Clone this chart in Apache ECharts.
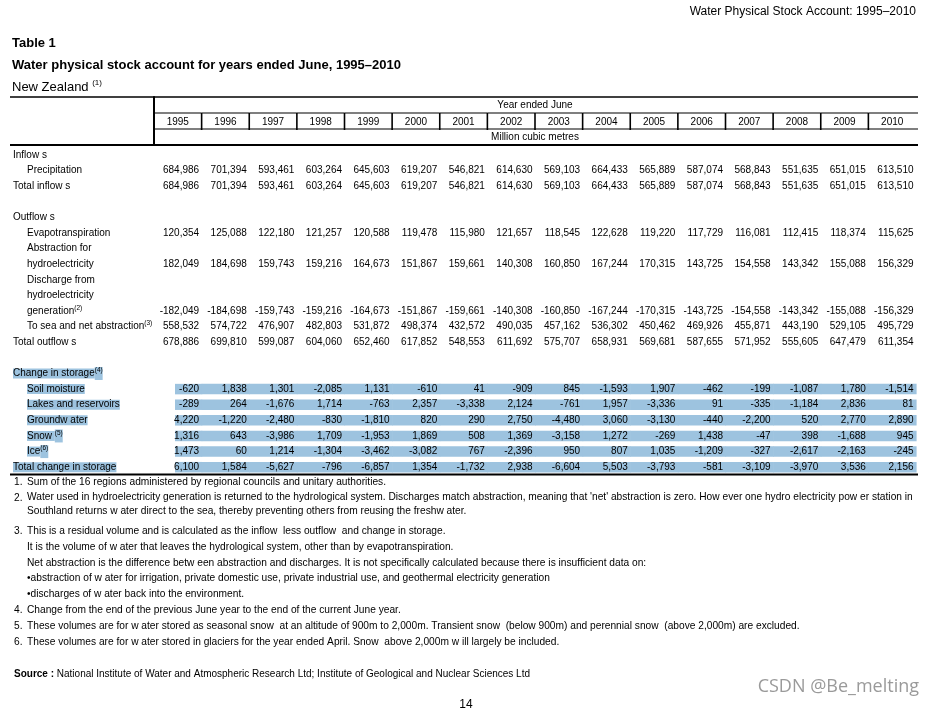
<!DOCTYPE html>
<html>
<head>
<meta charset="utf-8">
<script src="https://cdn.jsdelivr.net/npm/echarts@6/dist/echarts.min.js"></script>
<style>
  html, body { margin: 0; padding: 0; background: #fff; }
  #main { width: 935px; height: 715px; }
</style>
</head>
<body>
<div id="main"></div>
<script>
// 表格数据 (Million cubic metres)
const years = ['1995', '1996', '1997', '1998', '1999', '2000', '2001', '2002',
               '2003', '2004', '2005', '2006', '2007', '2008', '2009', '2010'];

const precipitation = [684986, 701394, 593461, 603264, 645603, 619207, 546821, 614630, 569103, 664433, 565889, 587074, 568843, 551635, 651015, 613510];
const totalInflows = [684986, 701394, 593461, 603264, 645603, 619207, 546821, 614630, 569103, 664433, 565889, 587074, 568843, 551635, 651015, 613510];
const evapotranspiration = [120354, 125088, 122180, 121257, 120588, 119478, 115980, 121657, 118545, 122628, 119220, 117729, 116081, 112415, 118374, 115625];
const abstractionHydro = [182049, 184698, 159743, 159216, 164673, 151867, 159661, 140308, 160850, 167244, 170315, 143725, 154558, 143342, 155088, 156329];
const dischargeHydro = [-182049, -184698, -159743, -159216, -164673, -151867, -159661, -140308, -160850, -167244, -170315, -143725, -154558, -143342, -155088, -156329];
const seaAndNetAbstraction = [558532, 574722, 476907, 482803, 531872, 498374, 432572, 490035, 457162, 536302, 450462, 469926, 455871, 443190, 529105, 495729];
const totalOutflows = [678886, 699810, 599087, 604060, 652460, 617852, 548553, 611692, 575707, 658931, 569681, 587655, 571952, 555605, 647479, 611354];
const soilMoisture = [-620, 1838, 1301, -2085, 1131, -610, 41, -909, 845, -1593, 1907, -462, -199, -1087, 1780, -1514];
const lakesReservoirs = [-289, 264, -1676, 1714, -763, 2357, -3338, 2124, -761, 1957, -3336, 91, -335, -1184, 2836, 81];
const groundwater = [4220, -1220, -2480, -830, -1810, 820, 290, 2750, -4480, 3060, -3130, -440, -2200, 520, 2770, 2890];
const snow = [1316, 643, -3986, 1709, -1953, 1869, 508, 1369, -3158, 1272, -269, 1438, -47, 398, -1688, 945];
const ice = [1473, 60, 1214, -1304, -3462, -3082, 767, -2396, 950, 807, 1035, -1209, -327, -2617, -2163, -245];
const totalChangeInStorage = [6100, 1584, -5627, -796, -6857, 1354, -1732, 2938, -6604, 5503, -3793, -581, -3109, -3970, 3536, 2156];

// 行结构 (每行一个槽位)
const tableRows = [
    { label: 'Inflow s' },
    { label: 'Precipitation', indent: true, values: precipitation },
    { label: 'Total inflow s', values: totalInflows },
    { label: '' },
    { label: 'Outflow s' },
    { label: 'Evapotranspiration', indent: true, values: evapotranspiration },
    { label: 'Abstraction for', indent: true },
    { label: 'hydroelectricity', indent: true, values: abstractionHydro },
    { label: 'Discharge from', indent: true },
    { label: 'hydroelectricity', indent: true },
    { label: 'generation', note: '(2)', indent: true, values: dischargeHydro },
    { label: 'To sea and net abstraction', note: '(3)', indent: true, values: seaAndNetAbstraction },
    { label: 'Total outflow s', values: totalOutflows },
    { label: '' },
    { label: 'Change in storage', note: '(4)', marked: true },
    { label: 'Soil moisture', indent: true, marked: true, values: soilMoisture },
    { label: 'Lakes and reservoirs', indent: true, marked: true, values: lakesReservoirs },
    { label: 'Groundw ater', indent: true, marked: true, values: groundwater },
    { label: 'Snow ', note: '(5)', indent: true, marked: true, values: snow },
    { label: 'Ice', note: '(6)', indent: true, marked: true, values: ice },
    { label: 'Total change in storage', marked: true, values: totalChangeInStorage }
];

const footnotes = [
    { num: '1.', lines: ['Sum of the 16 regions administered by regional councils and unitary authorities.'] },
    { num: '2.', lines: ["Water used in hydroelectricity generation is returned to the hydrological system. Discharges match abstraction, meaning that 'net' abstraction is zero. How ever one hydro electricity pow er station in",
                         'Southland returns w ater direct to the sea, thereby preventing others from reusing the freshw ater.'] },
    { num: '3.', lines: ['This is a residual volume and is calculated as the inflow  less outflow  and change in storage.',
                         'It is the volume of w ater that leaves the hydrological system, other than by evapotranspiration.',
                         'Net abstraction is the difference betw een abstraction and discharges. It is not specifically calculated because there is insufficient data on:',
                         '\u2022abstraction of w ater for irrigation, private domestic use, private industrial use, and geothermal electricity generation',
                         '\u2022discharges of w ater back into the environment.'] },
    { num: '4.', lines: ['Change from the end of the previous June year to the end of the current June year.'] },
    { num: '5.', lines: ['These volumes are for w ater stored as seasonal snow  at an altitude of 900m to 2,000m. Transient snow  (below 900m) and perennial snow  (above 2,000m) are excluded.'] },
    { num: '6.', lines: ['These volumes are for w ater stored in glaciers for the year ended April. Snow  above 2,000m w ill largely be included.'] }
];
const footnoteLineY = [[482], [497, 511], [531, 547, 563, 578, 594], [610], [626], [642]];

const FAMILY = 'Liberation Sans';
const NOTE_FONT = '10.2px ' + FAMILY;
const MARK = '#9dc3df';
const GRID_LEFT = 154;
const GRID_W = 762;

const chart = echarts.init(document.getElementById('main'));

const fmt = v => Number(v).toLocaleString('en-US');

function txt(x, y, text, font, align, extra) {
    return Object.assign({
        type: 'text', x: x, y: y, silent: true,
        style: {
            text: text, font: font || ('10px ' + FAMILY), fill: '#000',
            align: align || 'left', textAlign: align || 'left',
            verticalAlign: 'middle', textVerticalAlign: 'middle'
        }
    }, extra || {});
}
function hline(x1, x2, y, w) {
    return { type: 'line', silent: true, shape: { x1: x1, y1: y, x2: x2, y2: y }, style: { stroke: '#000', lineWidth: w || 1 } };
}

// 数值 / 标记数据
const cellData = [];
const markData = [];
tableRows.forEach((row, slot) => {
    if (!row.values) return;
    row.values.forEach((v, c) => {
        cellData.push([c, slot, v]);
        if (row.marked) markData.push([c, slot]);
    });
});

const sourceText = txt(14, 674, '{b|Source :} {n|National Institute of Water and Atmospheric Research Ltd; Institute of Geological and Nuclear Sciences Ltd}', null, 'left');
sourceText.style.rich = {
    b: { fontSize: 10, fontWeight: 'bold', fontFamily: FAMILY, fill: '#000' },
    n: { fontSize: 10, fontFamily: FAMILY, fill: '#000' }
};
const watermark = txt(919, 687, 'CSDN @Be_melting', '18px "Open Sans"', 'right');
watermark.style.fill = '#9a9a9a';

const graphics = [
    txt(916, 12, 'Water Physical Stock Account: 1995\u20132010', '12px ' + FAMILY, 'right'),
    txt(12, 43, 'Table 1', 'bold 13px ' + FAMILY),
    txt(12, 65, 'Water physical stock account for years ended June, 1995\u20132010', 'bold 13px ' + FAMILY),
    {
        type: 'text', x: 12, y: 87, silent: true,
        style: {
            text: '{a|New Zealand }{s|(1)}', verticalAlign: 'middle', textVerticalAlign: 'middle',
            rich: {
                a: { fontSize: 13, fontFamily: FAMILY, fill: '#000', lineHeight: 14 },
                s: { fontSize: 8, fontFamily: FAMILY, fill: '#000', lineHeight: 6, padding: [0, 0, 8, 0] }
            }
        }
    },
    hline(10, 918, 97, 1.5),
    hline(10, 918, 145, 2),
    hline(10, 918, 474.5, 2),
    txt(GRID_LEFT + GRID_W / 2, 105.5, 'Year ended June', null, 'center'),
    txt(GRID_LEFT + GRID_W / 2, 137.5, 'Million cubic metres', null, 'center'),
    sourceText,
    txt(466, 705, '14', '12px ' + FAMILY, 'center'),
    watermark
];

footnotes.forEach((f, i) => {
    const ys = footnoteLineY[i];
    graphics.push(txt(14, ys[0] + (i === 1 ? 1.5 : 0), f.num, NOTE_FONT));
    f.lines.forEach((line, j) => graphics.push(txt(27, ys[j], line, NOTE_FONT)));
});

const option = {
    animation: false,
    backgroundColor: '#fff',
    graphic: { elements: graphics },
    grid: [
        { left: GRID_LEFT, width: GRID_W, top: 97, height: 48 },
        { left: GRID_LEFT, width: GRID_W, top: 147, height: 328 }
    ],
    xAxis: [
        { gridIndex: 0, type: 'category', data: years, show: false },
        { gridIndex: 1, type: 'category', data: years, show: false }
    ],
    yAxis: [
        {
            gridIndex: 0, type: 'category', inverse: true, data: ['span', 'year', 'unit'],
            axisLine: { show: true, lineStyle: { color: '#000', width: 2 } },
            axisTick: { show: false }, axisLabel: { show: false }, splitLine: { show: false }
        },
        {
            gridIndex: 1, type: 'category', inverse: true,
            data: tableRows.map((r, i) => 'row' + i),
            axisLine: { show: false }, axisTick: { show: false }, splitLine: { show: false },
            axisLabel: {
                interval: 0, align: 'left', margin: GRID_LEFT - 13,
                fontSize: 10, fontFamily: FAMILY, lineHeight: 11,
                formatter: (val, idx) => {
                    const r = tableRows[idx];
                    if (!r || !r.label) return '';
                    const k = r.marked ? 'm' : 't';
                    let s = r.indent ? '{ind| }' : '';
                    s += '{' + k + '|' + r.label + '}';
                    if (r.note) s += '{' + k + 's|' + r.note + '}';
                    return s;
                },
                rich: {
                    ind: { width: 14, fontSize: 10, lineHeight: 11 },
                    t: { fontSize: 10, fontFamily: FAMILY, color: '#000', lineHeight: 11 },
                    m: { fontSize: 10, fontFamily: FAMILY, color: '#000', lineHeight: 11, backgroundColor: MARK },
                    ts: { fontSize: 6.5, fontFamily: FAMILY, color: '#000', lineHeight: 5, padding: [0, 0, 6, 0] },
                    ms: { fontSize: 6.5, fontFamily: FAMILY, color: '#000', lineHeight: 5, padding: [0, 0, 6, 0], backgroundColor: MARK }
                }
            }
        }
    ],
    series: [
        {
            // 年份表头
            type: 'custom', xAxisIndex: 0, yAxisIndex: 0,
            data: years.map((y, i) => [i, 1]),
            renderItem: (params, api) => {
                const i = api.value(0);
                const p = api.coord([i, api.value(1)]);
                const sz = api.size([1, 1]);
                const l = p[0] - sz[0] / 2, r = p[0] + sz[0] / 2;
                const t = p[1] - sz[1] / 2, b = p[1] + sz[1] / 2;
                const ext = i === years.length - 1 ? 2 : 0;
                return {
                    type: 'group',
                    children: [
                        hline(l, r + ext, t, 1.2),
                        hline(l, r + ext, b, 1.2),
                        { type: 'line', shape: { x1: l, y1: t, x2: l, y2: b + 1 }, style: { stroke: '#000', lineWidth: 1.6 } },
                        txt(p[0], p[1] + 1.5, years[i], null, 'center')
                    ]
                };
            }
        },
        {
            // 选中底色
            type: 'custom', xAxisIndex: 1, yAxisIndex: 1,
            data: markData,
            renderItem: (params, api) => {
                const c = api.value(0);
                const p = api.coord([c, api.value(1)]);
                const w = api.size([1, 1])[0];
                let l = p[0] - w / 2;
                const r = p[0] + w / 2;
                if (c === 0) l += 21;
                return { type: 'rect', shape: { x: l, y: p[1] - 5.25, width: r - l + 0.6, height: 10.5 }, style: { fill: MARK } };
            }
        },
        {
            // 数值
            type: 'custom', xAxisIndex: 1, yAxisIndex: 1,
            data: cellData,
            renderItem: (params, api) => {
                const p = api.coord([api.value(0), api.value(1)]);
                const w = api.size([1, 1])[0];
                return txt(p[0] + w / 2 - 2.5, p[1], fmt(api.value(2)), null, 'right');
            }
        }
    ]
};

chart.setOption(option);
</script>
</body>
</html>
